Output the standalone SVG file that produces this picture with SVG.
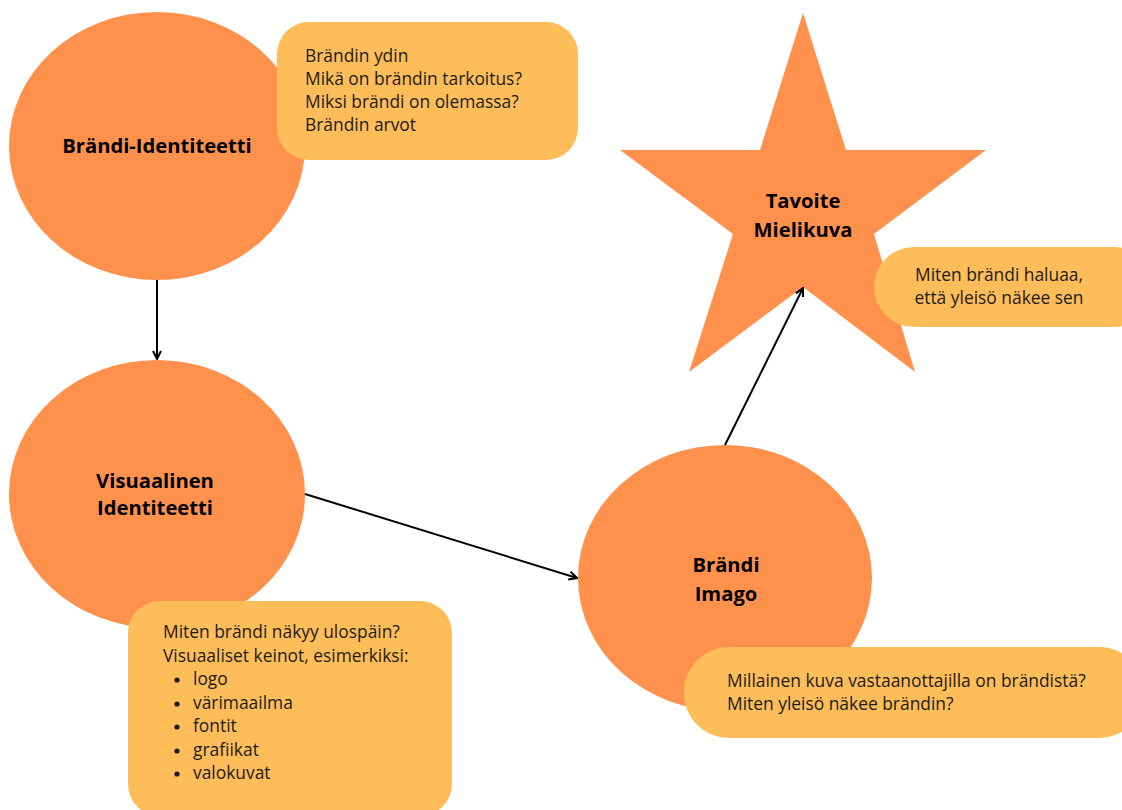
<svg xmlns="http://www.w3.org/2000/svg" width="1122" height="810" viewBox="0 0 1122 810">
<defs>
<style>
.shape{fill:#FF914D}
.box{fill:#FFBD59}
.t{font-family:"Open Sans","Liberation Sans",sans-serif;font-size:17.4px;fill:#1c1c1c}
.b{font-family:"Open Sans","Liberation Sans",sans-serif;font-size:20.2px;font-weight:bold;fill:#000;text-anchor:middle}
.c{stroke:#000;stroke-width:2;fill:none;marker-end:url(#ah)}
</style>
<marker id="ah" viewBox="0 0 10 10" refX="9" refY="5" markerWidth="5" markerHeight="5" orient="auto" markerUnits="strokeWidth">
<path d="M1,1 L9,5 L1,9" fill="none" stroke="#000" stroke-width="2"/>
</marker>
</defs>
<rect width="1122" height="810" fill="#fff"/>
<g id="brandi-identiteetti">
<ellipse class="shape" cx="157" cy="146" rx="148" ry="134"/>
<text class="b" x="157" y="153">Brändi-Identiteetti</text>
</g>
<g id="ydin-box">
<rect class="box" x="277" y="22" width="301" height="138" rx="32"/>
<text class="t" x="305" y="62">Brändin ydin</text>
<text class="t" x="305" y="85">Mikä on brändin tarkoitus?</text>
<text class="t" x="305" y="108">Miksi brändi on olemassa?</text>
<text class="t" x="305" y="131">Brändin arvot</text>
</g>
<g id="visuaalinen-identiteetti">
<ellipse class="shape" cx="157" cy="494" rx="148" ry="134"/>
<text class="b" x="155" y="488">Visuaalinen</text>
<text class="b" x="155" y="515">Identiteetti</text>
</g>
<g id="visuaalinen-box">
<rect class="box" x="128" y="601" width="324" height="215" rx="32"/>
<text class="t" x="163" y="638">Miten brändi näkyy ulospäin?</text>
<text class="t" x="163" y="662">Visuaaliset keinot, esimerkiksi:</text>
<g fill="#1c1c1c">
<circle cx="177" cy="680" r="2.6"/>
<circle cx="177" cy="704" r="2.6"/>
<circle cx="177" cy="727" r="2.6"/>
<circle cx="177" cy="751" r="2.6"/>
<circle cx="177" cy="774" r="2.6"/>
</g>
<text class="t" x="193" y="685">logo</text>
<text class="t" x="193" y="709">värimaailma</text>
<text class="t" x="193" y="732">fontit</text>
<text class="t" x="193" y="756">grafiikat</text>
<text class="t" x="193" y="779">valokuvat</text>
</g>
<g id="brandi-imago">
<ellipse class="shape" cx="725" cy="578" rx="147" ry="133"/>
<text class="b" x="726" y="572">Brändi</text>
<text class="b" x="726" y="601">Imago</text>
</g>
<g id="imago-box">
<rect class="box" x="684" y="647" width="460" height="91" rx="45"/>
<text class="t" x="727" y="687">Millainen kuva vastaanottajilla on brändistä?</text>
<text class="t" x="727" y="710">Miten yleisö näkee brändin?</text>
</g>
<g id="tavoite-mielikuva">
<polygon class="shape" points="803,13 846,150 986,150 874,234 915,372 803,287 689,372 733,234 620,150 760,150"/>
<text class="b" x="803" y="208">Tavoite</text>
<text class="b" x="803" y="237">Mielikuva</text>
</g>
<g id="tavoite-box">
<rect class="box" x="874" y="247" width="280" height="80" rx="40"/>
<text class="t" x="999" y="281" text-anchor="middle">Miten brändi haluaa,</text>
<text class="t" x="999" y="304" text-anchor="middle">että yleisö näkee sen</text>
</g>
<g id="connectors">
<line class="c" x1="157" y1="280" x2="157" y2="359"/>
<line class="c" x1="305" y1="494" x2="577" y2="578"/>
<line class="c" x1="725" y1="445" x2="803" y2="288"/>
</g>
</svg>
